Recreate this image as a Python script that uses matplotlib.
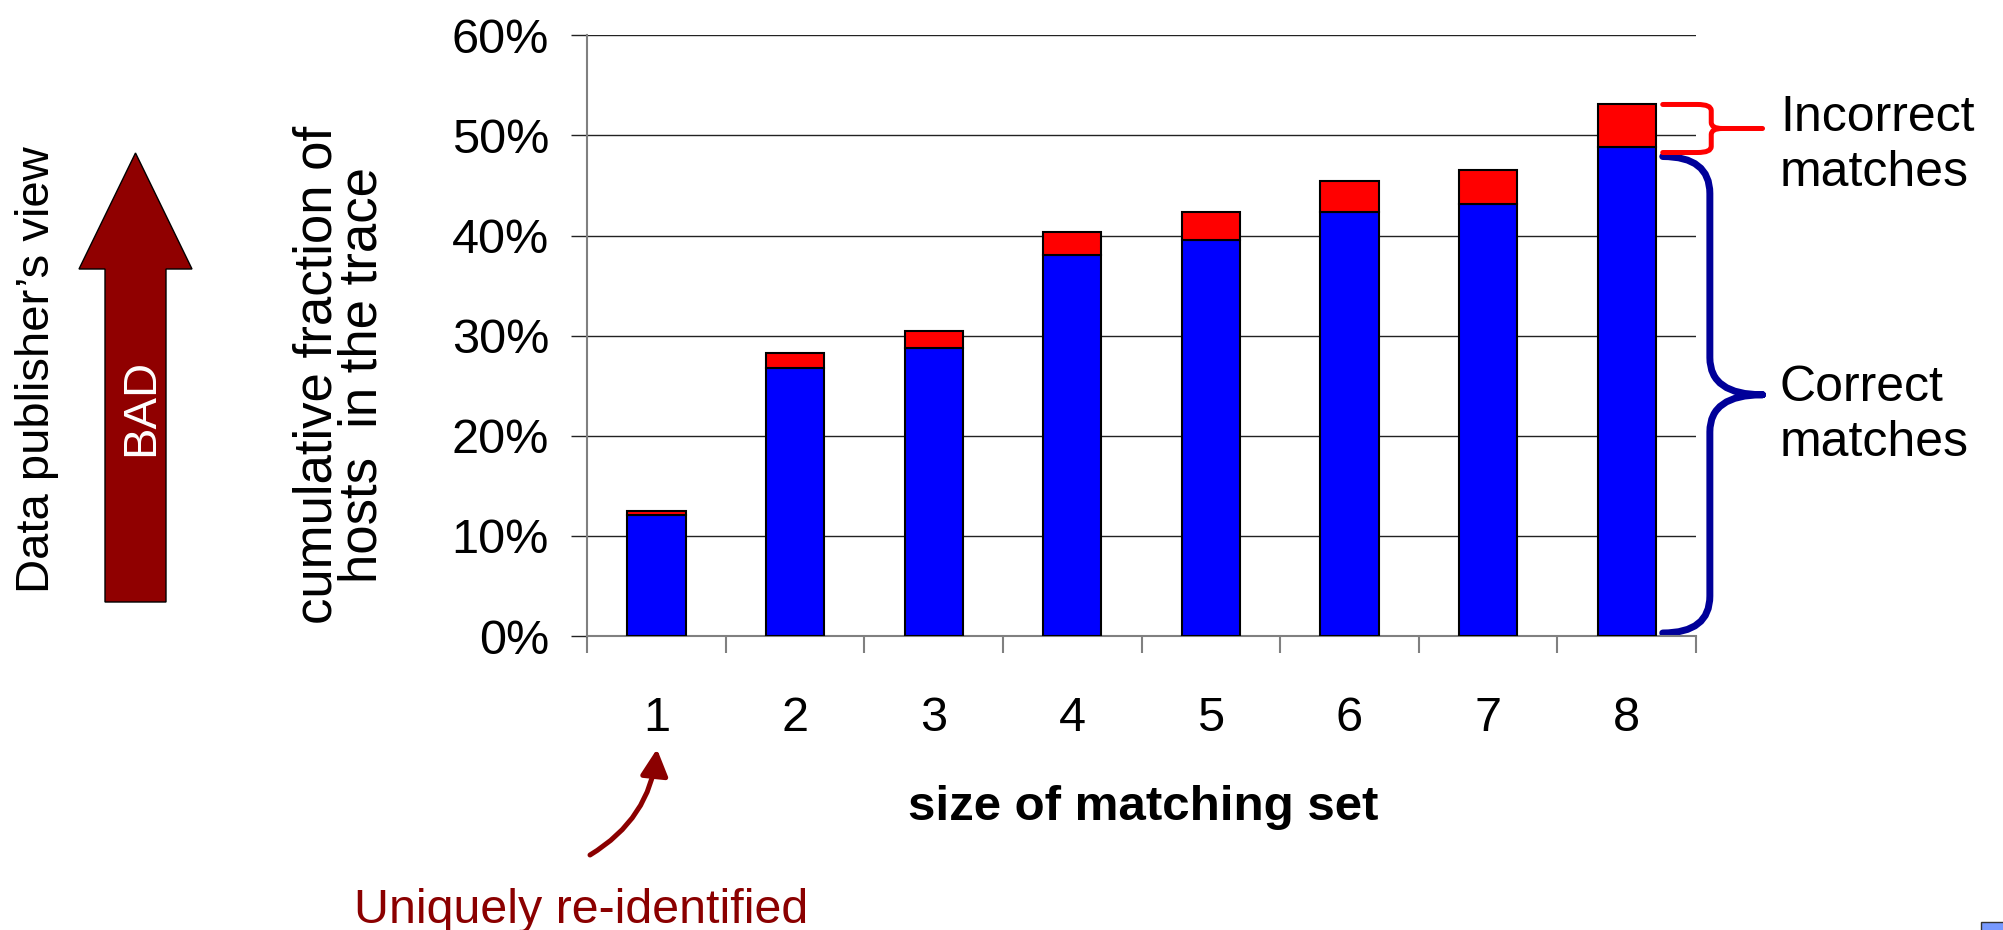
import numpy as np
import matplotlib.pyplot as plt
from matplotlib.path import Path
from matplotlib.patches import PathPatch, Polygon, Rectangle, FancyArrowPatch

plt.rcParams['font.family'] = ['Liberation Sans', 'DejaVu Sans']

# data (percent of hosts)
sizes = [1, 2, 3, 4, 5, 6, 7, 8]
correct = [12.1, 26.8, 28.8, 38.1, 39.6, 42.4, 43.2, 48.9]
incorrect = [0.4, 1.5, 1.7, 2.3, 2.8, 3.1, 3.4, 4.2]
y_ticks = [0, 10, 20, 30, 40, 50, 60]
y_tick_labels = ['0%', '10%', '20%', '30%', '40%', '50%', '60%']

W, H = 2003, 930
DARK_RED = '#8B0000'


def fx(px):
    return px / W


def fy(py):
    return 1 - py / H


fig = plt.figure(figsize=(W / 100, H / 100), dpi=100)
ax = fig.add_axes([fx(587.3), fy(636), (1696 - 587.3) / W, (636 - 35.4) / H])

ax.bar(sizes, correct, width=0.42, color='#0000FF', edgecolor='black', linewidth=1.5, zorder=3)
ax.bar(sizes, incorrect, bottom=correct, width=0.42, color='#FF0000', edgecolor='black',
       linewidth=1.5, zorder=3)

ax.set_xlim(0.5, 8.5)
ax.set_ylim(0, 60)
for s in ['top', 'right']:
    ax.spines[s].set_visible(False)
for s in ['left', 'bottom']:
    ax.spines[s].set_color('#808080')
    ax.spines[s].set_linewidth(1.5)

ax.set_yticks(y_ticks)
ax.set_yticklabels(y_tick_labels, fontsize=35)
ax.tick_params(axis='y', length=11.5, width=1.0, color='#222222', pad=16)
ax.yaxis.grid(True, color='#222222', linewidth=1.0)
ax.set_axisbelow(True)

ax.set_xticks(np.arange(0.5, 9.0, 1.0))
ax.set_xticklabels([])
ax.set_xticks(sizes, minor=True)
ax.set_xticklabels([str(s) for s in sizes], minor=True, fontsize=35)
ax.tick_params(axis='x', which='major', length=12.2, width=1.5, color='#808080')
ax.tick_params(axis='x', which='minor', length=0, pad=43)


def brace(x0, xm, xt, y0, y1, ry, rx_end, rx_tip, color, lw):
    ym = (y0 + y1) / 2
    verts = [(x0, y0), (xm - rx_end, y0), (xm, y0), (xm, y0 + ry),
             (xm, ym - ry), (xm, ym), (xm + rx_tip, ym), (xt, ym),
             (xm + rx_tip, ym), (xm, ym), (xm, ym + ry),
             (xm, y1 - ry), (xm, y1), (xm - rx_end, y1), (x0, y1)]
    codes = [Path.MOVETO, Path.LINETO, Path.CURVE3, Path.CURVE3,
             Path.LINETO, Path.CURVE3, Path.CURVE3, Path.LINETO,
             Path.MOVETO, Path.CURVE3, Path.CURVE3,
             Path.LINETO, Path.CURVE3, Path.CURVE3, Path.LINETO]
    ax.add_patch(PathPatch(Path(verts, codes), facecolor='none', edgecolor=color,
                           linewidth=lw, clip_on=False, capstyle='round', joinstyle='round'))


top = correct[-1] + incorrect[-1]
brace(8.26, 8.60, 8.98, 0.3, correct[-1] - 1.0, 3.7, 0.34, 0.38, '#000099', 5)
brace(8.26, 8.61, 8.98, correct[-1] - 0.6, top, 0.6, 0.1, 0.08, '#FF0000', 3.6)

# multi-line text: va='baseline' puts the last line on y
fig.text(fx(1780), fy(186), 'Incorrect\nmatches', fontsize=36, ha='left', va='baseline',
         linespacing=1.25)
fig.text(fx(1780), fy(456), 'Correct\nmatches', fontsize=36, ha='left', va='baseline',
         linespacing=1.25)

fig.text(fx(1143), fy(820), 'size of matching set', fontsize=35.5, fontweight='bold',
         ha='center', va='baseline')
fig.text(fx(340), fy(375), 'cumulative fraction of\nhosts  in the trace', fontsize=38,
         rotation=90, ha='center', va='center', multialignment='center', linespacing=0.85)
fig.text(fx(37.5), fy(370), 'Data publisher\u2019s view', fontsize=34, rotation=90,
         ha='center', va='center')

# BAD arrow
arrow_px = [(105, 602), (105, 269), (79, 269), (135.5, 153), (192, 269), (166, 269), (166, 602)]
fig.add_artist(Polygon([(fx(x), fy(y)) for x, y in arrow_px], closed=True,
                       facecolor='#900000', edgecolor='black', linewidth=1.0,
                       transform=fig.transFigure))
fig.text(fx(141), fy(407), 'BAD', fontsize=34, color='white', rotation=90,
         ha='center', va='center')

# curved arrow to size 1
fig.add_artist(FancyArrowPatch((fx(590), fy(855)), (fx(657), fy(749)),
                               transform=fig.transFigure,
                               connectionstyle='arc3,rad=0.25',
                               arrowstyle='-|>,head_length=16,head_width=8.3',
                               color=DARK_RED, linewidth=3.6, shrinkA=0, shrinkB=0))
fig.text(fx(581), fy(923), 'Uniquely re-identified', fontsize=34.8, color=DARK_RED,
         ha='center', va='baseline')

# slide artefact in the corner
fig.add_artist(Rectangle((fx(1981), fy(950)), (2040 - 1981) / W, 28 / H,
                         transform=fig.transFigure, facecolor='#7799FF',
                         edgecolor='#333333', linewidth=1.0))

fig.savefig('out.png', dpi=100)
